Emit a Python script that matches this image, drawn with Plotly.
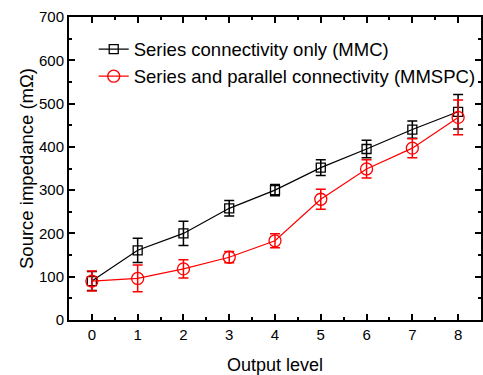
import plotly.graph_objects as go

levels = [0, 1, 2, 3, 4, 5, 6, 7, 8]
mmc = [90, 161, 200, 258, 300, 352, 395, 440, 481]
mmc_err = [22, 28, 28, 18, 13, 18, 20, 20, 40]
mmspc = [90, 96, 118, 145, 183, 279, 349, 397, 468]
mmspc_err = [23, 31, 21, 13, 16, 23, 21, 22, 40]

FONT = "Arial, Liberation Sans"

fig = go.Figure()
fig.add_trace(go.Scatter(
    x=levels, y=mmc, mode="lines+markers", name="Series connectivity only (MMC)",
    line=dict(color="black", width=1.2),
    marker=dict(symbol="square-open", size=9, color="black", line=dict(width=1.3)),
    error_y=dict(type="data", array=mmc_err, color="black", thickness=1.5, width=5),
))
fig.add_trace(go.Scatter(
    x=levels, y=mmspc, mode="lines+markers", name="Series and parallel connectivity (MMSPC)",
    line=dict(color="red", width=1.2),
    marker=dict(symbol="circle-open", size=12, color="red", line=dict(width=1.3)),
    error_y=dict(type="data", array=mmspc_err, color="red", thickness=1.5, width=5),
))

axis_common = dict(
    showline=True, linecolor="black", linewidth=2, mirror="ticks",
    ticks="inside", ticklen=6, tickwidth=1.5, tickcolor="black",
    showgrid=False, zeroline=False, automargin=False,
    tickfont=dict(family=FONT, size=15, color="black"),
)
fig.update_xaxes(
    range=[-0.5, 8.5], tickmode="array", tickvals=levels,
    title=dict(text="Output level", font=dict(family=FONT, size=18, color="black"), standoff=19),
    minor=dict(dtick=0.5, tick0=0, ticks="inside", ticklen=3, tickwidth=1.5, tickcolor="black"),
    **axis_common,
)
fig.update_yaxes(
    range=[0, 700], dtick=100,
    title=dict(text="Source impedance (mΩ)", font=dict(family=FONT, size=18.5, color="black"), standoff=0),
    minor=dict(dtick=50, ticks="inside", ticklen=3, tickwidth=1.5, tickcolor="black"),
    **axis_common,
)
fig.update_layout(
    width=483, height=375,
    margin=dict(l=69, r=2, t=17, b=55),
    plot_bgcolor="white", paper_bgcolor="white",
    legend=dict(x=0.06, y=0.955, xanchor="left", yanchor="top",
                bgcolor="rgba(0,0,0,0)",
                font=dict(family=FONT, size=18.5, color="black"),
                tracegroupgap=0),
    showlegend=True,
)
fig.write_html("out.html")
